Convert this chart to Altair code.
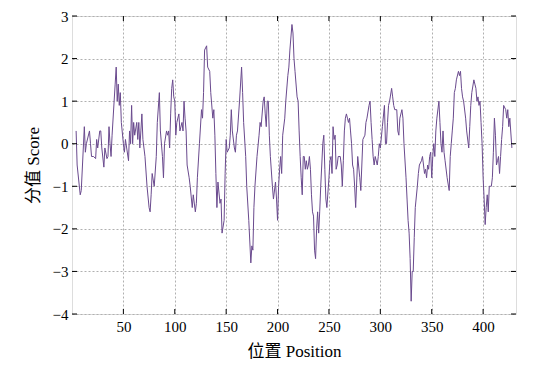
import altair as alt
import pandas as pd

# (position, score), in four stretches
seg_1_100 = [(4,0.3),(5,-0.5),(8,-1.2),(9,-1.1),(12,0.4),(13,-0.2),(14,0.0),(17,0.3),(18,0.0),(19,-0.3),
             (21,-0.3),(23,-0.35),(24,0.1),(25,-0.1),(27,0.3),(28,0.3),(29,-0.1),(31,-0.55),(32,-0.1),(34,-0.35),
             (35,-0.3),(36,0.4),(37,0.0),(38,-0.3),(39,0.2),(41,1.0),(42,1.4),(43,1.8),(44,1.0),(45,1.4),
             (46,0.9),(47,1.2),(48,0.5),(50,0.0),(51,-0.2),(52,0.1),(55,-0.4),(56,0.3),(57,0.0),(58,0.9),
             (59,0.0),(60,0.5),(61,0.2),(63,0.5),(64,0.1),(65,0.5),(66,-0.1),(67,0.3),(68,0.7),(69,0.1),
             (71,-0.3),(73,-1.0),(75,-1.5),(76,-1.6),(77,-1.2),(78,-0.7),(80,-1.0),(82,-0.3),(83,0.5),(85,1.2),
             (86,0.3),(88,-0.3),(89,-0.8),(90,0.0),(92,0.3),(93,0.2),(94,0.3),(95,-0.1),(96,0.7),(97,1.3),
             (98,1.5),(99,1.1),(100,1.0)]
seg_101_200 = [(101,0.2),(102,0.5),(104,0.7),(105,0.3),(107,0.5),(108,0.3),(109,1.0),(110,0.6),(111,0.3),(112,-0.5),
               (114,-0.8),(115,-1.0),(117,-1.5),(118,-1.2),(120,-1.6),(121,-1.4),(122,-0.8),(124,0.0),(126,0.8),(127,0.6),
               (128,1.2),(129,2.2),(131,2.3),(132,1.8),(134,1.7),(135,1.2),(137,0.6),(138,0.8),(139,0.2),(140,-0.7),
               (141,-1.5),(142,-0.9),(144,-1.4),(145,-1.3),(146,-2.1),(148,-1.8),(149,-0.7),(150,0.1),(151,-0.2),(153,-0.1),
               (154,0.2),(155,0.8),(156,0.3),(158,-0.1),(159,-0.2),(160,0.2),(161,0.3),(163,1.0),(165,1.8),(166,1.2),
               (167,0.5),(169,-0.3),(170,-1.0),(172,-1.8),(174,-2.8),(175,-2.4),(176,-2.5),(177,-1.5),(178,-1.0),(180,-0.3),
               (182,0.2),(183,0.5),(184,0.4),(186,1.0),(187,1.1),(188,0.7),(189,0.4),(190,1.0),(191,1.0),(192,0.2),
               (193,-0.3),(195,-1.0),(196,-1.3),(198,-0.9),(199,-1.3),(200,-1.8)]
seg_201_300 = [(201,-1.0),(202,-0.6),(203,-0.3),(204,-0.7),(205,0.2),(207,0.6),(208,1.0),(210,1.6),(211,1.8),(212,2.2),
               (214,2.8),(215,2.6),(216,2.0),(217,1.7),(219,1.1),(220,1.0),(221,0.3),(222,-0.3),(223,-0.8),(224,-1.2),
               (225,-0.3),(226,-0.3),(227,-0.6),(228,-0.4),(229,-0.6),(230,-0.5),(231,-0.3),(232,-0.6),(233,-1.2),(234,-1.6),
               (235,-1.7),(236,-2.5),(237,-2.7),(238,-2.0),(239,-1.6),(240,-2.1),(241,-1.6),(242,-1.0),(243,-0.5),(244,0.0),
               (245,0.2),(246,-0.6),(247,-1.3),(248,-1.5),(250,-0.8),(251,-0.4),(252,-0.3),(253,-0.7),(254,0.4),(255,0.1),
               (256,0.2),(257,-0.6),(258,-0.5),(259,-0.3),(261,-0.3),(262,-0.5),(263,-1.0),(264,-0.4),(265,0.3),(266,0.6),
               (267,0.7),(268,0.6),(269,0.5),(270,0.6),(271,0.3),(272,0.0),(273,-0.5),(274,-0.6),(275,-1.0),(276,-1.5),
               (277,-0.9),(278,-0.3),(280,-0.8),(281,-1.1),(283,0.1),(285,0.2),(286,0.5),(287,0.6),(289,0.9),(290,1.0),
               (291,0.5),(292,0.1),(293,-0.3),(294,-0.5),(295,-0.3),(297,-0.5),(298,-0.3),(299,0.0),(300,-0.1)]
seg_301_428 = [(302,0.4),(304,0.9),(305,0.0),(306,0.0),(307,0.5),(308,0.9),(309,1.0),(311,1.3),(312,1.1),(313,0.9),
               (314,0.8),(316,0.8),(317,0.3),(318,0.2),(319,0.6),(321,0.8),(322,0.6),(323,0.0),(325,-0.8),(326,-1.3),
               (327,-1.8),(328,-2.1),(329,-2.7),(330,-3.7),(331,-3.0),(332,-3.0),(333,-2.2),(334,-1.5),(336,-1.0),(337,-0.7),
               (338,-0.5),(340,-0.4),(341,-0.3),(342,-0.5),(343,-0.7),(344,-0.6),(345,-0.8),(346,-0.5),(347,-0.6),(348,-0.3),
               (349,-0.2),(350,-0.8),(351,-0.3),(352,0.0),(353,-0.3),(354,0.3),(355,0.6),(357,1.0),(358,0.5),(359,0.0),
               (360,-0.2),(361,0.3),(362,-0.2),(363,-0.4),(365,-0.8),(367,-1.1),(368,-0.3),(369,0.0),(370,0.3),(371,0.6),
               (372,1.2),(373,1.3),(374,1.5),(376,1.7),(377,1.6),(378,1.7),(379,1.3),(380,1.1),(381,1.0),(383,0.6),
               (384,0.3),(386,-0.1),(387,0.4),(388,0.9),(389,1.2),(391,1.5),(392,1.4),(393,1.3),(394,1.0),(395,1.1),
               (396,0.9),(397,1.0),(398,0.5),(399,0.0),(400,-0.8),(401,-1.3),(402,-1.9),(403,-1.5),(404,-1.2),(405,-1.6),
               (406,-1.0),(407,-1.0),(408,-1.0),(409,-0.8),(410,-0.2),(411,0.6),(412,0.2),(413,-0.5),(414,-0.4),(415,-0.3),
               (416,-0.7),(417,-0.3),(418,0.1),(419,0.4),(420,0.9),(422,0.8),(423,0.6),(424,0.8),(425,0.4),(426,0.6),
               (428,-0.1)]

x_ticks = [50, 100, 150, 200, 250, 300, 350, 400]
y_ticks = [-4, -3, -2, -1, 0, 1, 2, 3]

W, H = 444, 298
FONT = "Liberation Serif, DejaVu Serif, Noto Sans CJK SC, serif"

pairs = seg_1_100 + seg_101_200 + seg_201_300 + seg_301_428
df = pd.DataFrame(pairs, columns=["pos", "score"])
xt = pd.DataFrame({"t": x_ticks})
yt = pd.DataFrame({"t": y_ticks})

xscale = alt.Scale(domain=[0, 432], nice=False, zero=False)
yscale = alt.Scale(domain=[-4, 3], nice=False, zero=False)

line = alt.Chart(df).mark_line(color="#6a4a8e", strokeWidth=1).encode(
    x=alt.X("pos:Q", scale=xscale,
            axis=alt.Axis(values=x_ticks, title="位置 Position", grid=True,
                          gridDash=[2, 2], gridColor="#b0b0b0", tickSize=0,
                          labelPadding=5, titlePadding=9, domain=False,
                          labelFont=FONT, titleFont=FONT, labelFontSize=15,
                          titleFontSize=17, titleFontWeight="normal",
                          labelColor="black", titleColor="black")),
    y=alt.Y("score:Q", scale=yscale,
            axis=alt.Axis(values=y_ticks, title="分值 Score", grid=True,
                          gridDash=[2, 2], gridColor="#b0b0b0", tickSize=0,
                          labelPadding=4, titlePadding=10, domain=False,
                          labelFont=FONT, titleFont=FONT, labelFontSize=15,
                          titleFontSize=17, titleFontWeight="normal",
                          labelColor="black", titleColor="black")),
)

tick_len = 5
left_t = alt.Chart(yt).mark_rule(color="black").encode(
    y=alt.Y("t:Q", scale=yscale), x=alt.value(0), x2=alt.value(tick_len))
right_t = alt.Chart(yt).mark_rule(color="black").encode(
    y=alt.Y("t:Q", scale=yscale), x=alt.value(W - tick_len), x2=alt.value(W))
bottom_t = alt.Chart(xt).mark_rule(color="black").encode(
    x=alt.X("t:Q", scale=xscale), y=alt.value(H - tick_len), y2=alt.value(H))
top_t = alt.Chart(xt).mark_rule(color="black").encode(
    x=alt.X("t:Q", scale=xscale), y=alt.value(0), y2=alt.value(tick_len))

chart = alt.layer(line, left_t, right_t, bottom_t, top_t).properties(
    width=W, height=H,
    autosize=alt.AutoSizeParams(type="none"),
    padding={"left": 64, "top": 8, "right": 12, "bottom": 52},
).configure_view(stroke="black", strokeWidth=1).configure(background="white")

chart.save("out.html", embed_options={"renderer": "svg", "actions": False})
